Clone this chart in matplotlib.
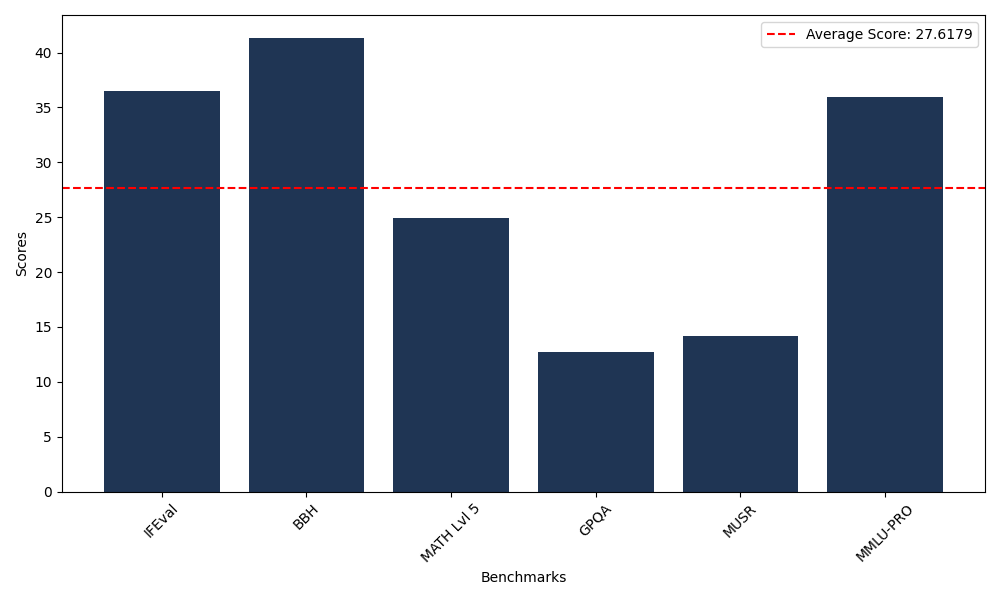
import numpy as np
import matplotlib
matplotlib.use('Agg')
import matplotlib.pyplot as plt

benchmarks = ['IFEval', 'BBH', 'MATH Lvl 5', 'GPQA', 'MUSR', 'MMLU-PRO']
scores = [36.5, 41.35, 24.95, 12.75, 14.2, 35.9574]

avg = np.mean(scores)

fig, ax = plt.subplots(figsize=(10, 6), dpi=100)
ax.bar(benchmarks, scores, color='#1f3554')
ax.axhline(avg, color='red', linestyle='--', label=f'Average Score: {avg:.4f}')

ax.set_xlabel('Benchmarks')
ax.set_ylabel('Scores')
ax.legend(loc='upper right')
plt.xticks(rotation=45)
plt.tight_layout()
plt.savefig('out.png')
